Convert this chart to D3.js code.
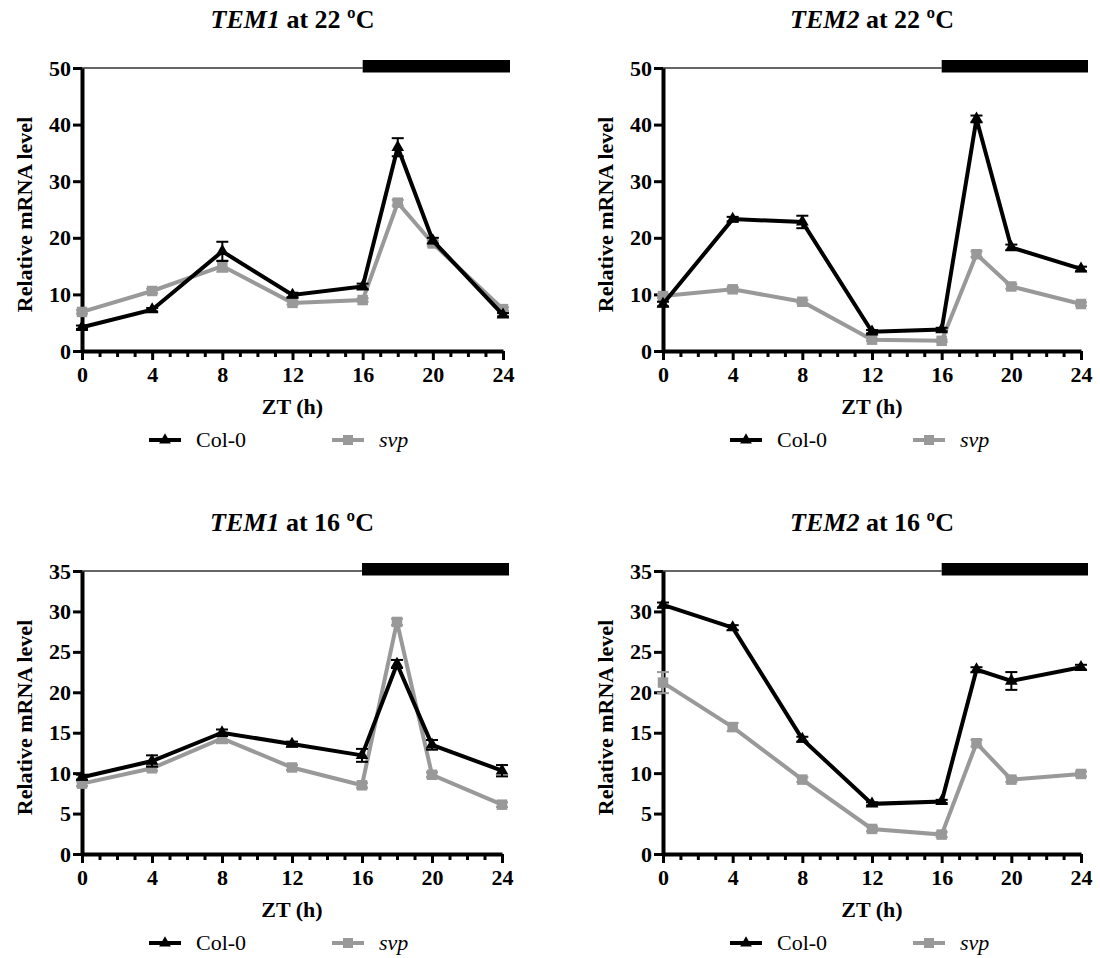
<!DOCTYPE html>
<html>
<head>
<meta charset="utf-8">
<script src="https://cdn.jsdelivr.net/npm/d3@7"></script>
<style>
html,body{margin:0;padding:0;background:#fff;}
svg{display:block;}
svg text{font-family:"Liberation Serif","Times New Roman",Times,"DejaVu Serif",serif;}
</style>
</head>
<body>
<svg id="chart" width="1100" height="958"></svg>
<script>
// ---- data ----
const hours = [0, 4, 8, 12, 16, 18, 20, 24];
const xTicks = [0, 4, 8, 12, 16, 20, 24];
const seriesNames = ["Col-0", "svp"];

const tem1_22_col = [4.2, 7.3, 17.6, 9.9, 11.4, 36.0, 19.5, 6.4];
const tem1_22_colErr = [0.3, 0.3, 1.7, 0.4, 0.5, 1.6, 0.5, 0.3];
const tem1_22_svp = [6.9, 10.6, 15.0, 8.5, 9.0, 26.2, 19.0, 7.4];
const tem1_22_svpErr = [0.3, 0.4, 1.0, 0.3, 0.3, 0.5, 0.5, 0.3];

const tem2_22_col = [8.3, 23.3, 22.8, 3.4, 3.8, 41.0, 18.3, 14.5];
const tem2_22_colErr = [0.4, 0.4, 1.1, 0.3, 0.3, 0.6, 0.5, 0.4];
const tem2_22_svp = [9.7, 10.9, 8.7, 2.0, 1.8, 17.1, 11.4, 8.3];
const tem2_22_svpErr = [0.3, 0.4, 0.3, 0.2, 0.2, 0.5, 0.4, 0.3];

const tem1_16_col = [9.5, 11.5, 15.0, 13.6, 12.2, 23.5, 13.5, 10.3];
const tem1_16_colErr = [0.3, 0.7, 0.4, 0.3, 0.8, 0.5, 0.6, 0.7];
const tem1_16_svp = [8.7, 10.6, 14.3, 10.7, 8.5, 28.7, 9.8, 6.1];
const tem1_16_svpErr = [0.3, 0.3, 0.6, 0.3, 0.3, 0.4, 0.3, 0.3];

const tem2_16_col = [30.8, 28.0, 14.2, 6.2, 6.5, 22.8, 21.4, 23.1];
const tem2_16_colErr = [0.3, 0.3, 0.3, 0.2, 0.2, 0.3, 1.1, 0.3];
const tem2_16_svp = [21.2, 15.7, 9.2, 3.1, 2.4, 13.7, 9.2, 9.9];
const tem2_16_svpErr = [1.3, 0.5, 0.3, 0.3, 0.3, 0.4, 0.3, 0.3];

const yTicks50 = [0, 10, 20, 30, 40, 50];
const yTicks35 = [0, 5, 10, 15, 20, 25, 30, 35];
const darkStart = 16, darkEnd = 24;

const panels = [
  {gene: "TEM1", temp: " at 22 ºC", col: tem1_22_col, colErr: tem1_22_colErr, svp: tem1_22_svp, svpErr: tem1_22_svpErr, ymax: 50, yt: yTicks50},
  {gene: "TEM2", temp: " at 22 ºC", col: tem2_22_col, colErr: tem2_22_colErr, svp: tem2_22_svp, svpErr: tem2_22_svpErr, ymax: 50, yt: yTicks50},
  {gene: "TEM1", temp: " at 16 ºC", col: tem1_16_col, colErr: tem1_16_colErr, svp: tem1_16_svp, svpErr: tem1_16_svpErr, ymax: 35, yt: yTicks35},
  {gene: "TEM2", temp: " at 16 ºC", col: tem2_16_col, colErr: tem2_16_colErr, svp: tem2_16_svp, svpErr: tem2_16_svpErr, ymax: 35, yt: yTicks35}
];

// ---- layout ----
const layout = [
  {x0: 82, x1: 503, yTop: 68, yBot: 351},
  {x0: 663, x1: 1081, yTop: 68, yBot: 351},
  {x0: 82, x1: 502, yTop: 571, yBot: 854},
  {x0: 663, x1: 1081, yTop: 571, yBot: 854}
];

const FONT = "'Liberation Serif','Times New Roman',Times,'DejaVu Serif',serif";
const svg = d3.select("#chart");
const BLACK = "#000";
const GRAY = "#999";

panels.forEach((p, i) => {
  const L = layout[i];
  const g = svg.append("g").attr("font-family", FONT);
  const x = d3.scaleLinear().domain([0, 24]).range([L.x0, L.x1]);
  const y = d3.scaleLinear().domain([0, p.ymax]).range([L.yBot, L.yTop]);
  const cx = (L.x0 + L.x1) / 2;

  // title
  const t = g.append("text").attr("x", cx).attr("y", L.yTop - 40)
    .attr("text-anchor", "middle").attr("font-size", 26).attr("font-weight", "bold");
  t.append("tspan").attr("font-style", "italic").text(p.gene);
  t.append("tspan").text(p.temp);

  // light/dark bar
  g.append("line").attr("x1", x(0)).attr("x2", x(darkStart))
    .attr("y1", y(p.ymax)).attr("y2", y(p.ymax))
    .attr("stroke", "#333").attr("stroke-width", 1.5);
  g.append("rect").attr("x", x(darkStart)).attr("y", y(p.ymax) - 8)
    .attr("width", x(darkEnd) - x(darkStart) + 7).attr("height", 12.5)
    .attr("fill", BLACK);

  // x axis
  const xAxis = d3.axisBottom(x).tickValues(xTicks).tickSize(9).tickPadding(6).tickSizeOuter(0);
  const gx = g.append("g").attr("transform", `translate(0,${L.yBot})`).call(xAxis).attr("font-family", FONT);
  gx.select(".domain").attr("stroke-width", 4).attr("stroke", BLACK);
  gx.selectAll(".tick line").attr("stroke-width", 3).attr("stroke", BLACK);
  gx.selectAll(".tick text").attr("font-size", 22).attr("font-weight", "bold").attr("fill", BLACK);
  const minorX = d3.range(0, 25).filter(h => xTicks.indexOf(h) < 0);
  const xMinor = d3.axisBottom(x).tickValues(minorX).tickSize(6).tickFormat("");
  const gxm = g.append("g").attr("transform", `translate(0,${L.yBot})`).call(xMinor);
  gxm.select(".domain").remove();
  gxm.selectAll(".tick line").attr("stroke-width", 3).attr("stroke", BLACK);

  // y axis
  const yAxis = d3.axisLeft(y).tickValues(p.yt).tickSize(9).tickPadding(2).tickSizeOuter(0);
  const gy = g.append("g").attr("transform", `translate(${L.x0},0)`).call(yAxis).attr("font-family", FONT);
  gy.select(".domain").attr("stroke-width", 4).attr("stroke", BLACK);
  gy.selectAll(".tick line").attr("stroke-width", 3).attr("stroke", BLACK);
  gy.selectAll(".tick text").attr("font-size", 22).attr("font-weight", "bold").attr("fill", BLACK);

  // axis titles
  g.append("text").attr("x", cx).attr("y", L.yBot + 63)
    .attr("text-anchor", "middle").attr("font-size", 22).attr("font-weight", "bold").text("ZT (h)");
  g.append("text").attr("transform", `translate(${L.x0 - 50},${(L.yTop + L.yBot) / 2 + 5}) rotate(-90)`)
    .attr("text-anchor", "middle").attr("font-size", 22).attr("font-weight", "bold").text("Relative mRNA level");

  // series
  const series = [
    {vals: p.svp, err: p.svpErr, color: GRAY, sym: d3.symbolSquare, size: 110},
    {vals: p.col, err: p.colErr, color: BLACK, sym: d3.symbolTriangle, size: 70}
  ];
  const line = d3.line().x(d => x(d[0])).y(d => y(d[1]));
  series.forEach(s => {
    const pts = hours.map((h, k) => [h, s.vals[k], s.err[k]]);
    const eb = g.append("g");
    pts.forEach(d => {
      eb.append("line").attr("x1", x(d[0])).attr("x2", x(d[0]))
        .attr("y1", y(d[1] - d[2])).attr("y2", y(d[1] + d[2]))
        .attr("stroke", s.color).attr("stroke-width", 2);
      [d[1] - d[2], d[1] + d[2]].forEach(v => {
        eb.append("line").attr("x1", x(d[0]) - 6).attr("x2", x(d[0]) + 6)
          .attr("y1", y(v)).attr("y2", y(v)).attr("stroke", s.color).attr("stroke-width", 2);
      });
    });
    g.append("path").datum(pts).attr("d", line).attr("fill", "none")
      .attr("stroke", s.color).attr("stroke-width", 4).attr("stroke-linejoin", "miter");
    g.append("g").selectAll("path").data(pts).join("path")
      .attr("transform", d => `translate(${x(d[0])},${y(d[1])})`)
      .attr("d", d3.symbol().type(s.sym).size(s.size)).attr("fill", s.color);
  });

  // legend
  const ly = L.yBot + 89;
  const leg = [
    {name: seriesNames[0], color: BLACK, sym: d3.symbolTriangle, size: 60, lx: L.x0 + 67, italic: false},
    {name: seriesNames[1], color: GRAY, sym: d3.symbolSquare, size: 100, lx: L.x0 + 250, italic: true}
  ];
  leg.forEach(l => {
    g.append("line").attr("x1", l.lx).attr("x2", l.lx + 32).attr("y1", ly).attr("y2", ly)
      .attr("stroke", l.color).attr("stroke-width", 4);
    g.append("path").attr("transform", `translate(${l.lx + 16},${ly})`)
      .attr("d", d3.symbol().type(l.sym).size(l.size)).attr("fill", l.color);
    g.append("text").attr("x", l.lx + 47).attr("y", ly + 7).attr("font-size", 22)
      .attr("font-style", l.italic ? "italic" : "normal").text(l.name);
  });
});
</script>
</body>
</html>
